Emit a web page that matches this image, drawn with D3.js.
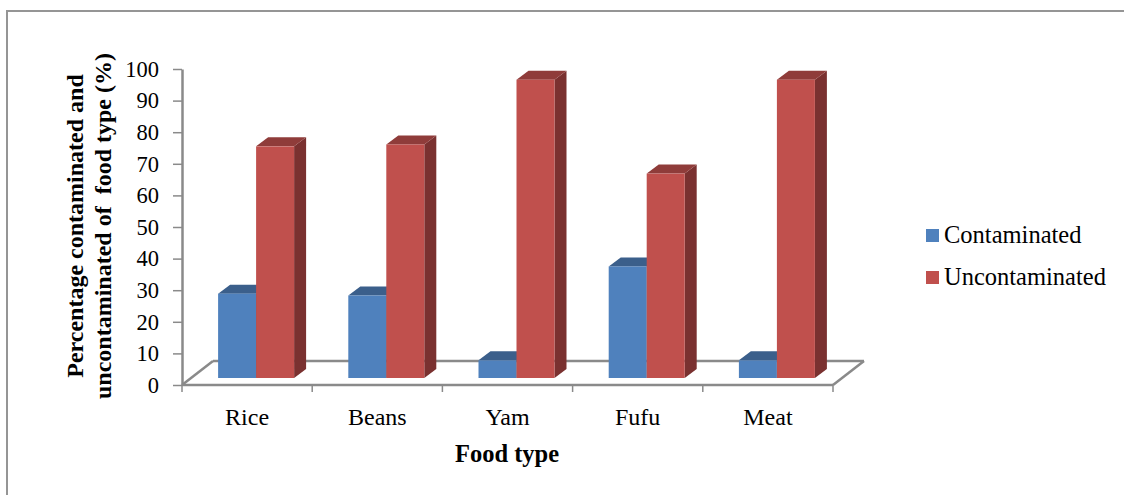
<!DOCTYPE html>
<html>
<head>
<meta charset="utf-8">
<script src="https://cdn.jsdelivr.net/npm/d3@7"></script>
<style>
  html, body { margin: 0; padding: 0; background: #fff; }
  svg { display: block; font-family: "Liberation Serif", "Times New Roman", serif; }
</style>
</head>
<body>
<svg id="chart" width="1124" height="495"></svg>
<script>
// Food types and percentages of samples found contaminated / uncontaminated
const categories = ["Rice", "Beans", "Yam", "Fufu", "Meat"];
const contaminated = [26.7, 26.1, 5.6, 35.3, 5.6];
const uncontaminated = [73.3, 73.9, 94.4, 64.7, 94.4];
const yTicks = [0, 10, 20, 30, 40, 50, 60, 70, 80, 90, 100];
const seriesNames = ["Contaminated", "Uncontaminated"];

const colors = {
  Contaminated: { front: "#4f81bd", top: "#3b5f8b", side: "#2f4c70" },
  Uncontaminated: { front: "#c0504d", top: "#8f3c3a", side: "#7a3130" }
};

const serif = "'Liberation Serif', 'Times New Roman', serif";
const svg = d3.select("#chart");

// Outer chart-area frame (top and left edges fall inside the view)
svg.append("path")
  .attr("d", "M7,495 V11 H1124")
  .attr("fill", "none")
  .attr("stroke", "#959595")
  .attr("stroke-width", 2);

// Plot geometry
const x0 = 182, x1 = 833;
const y = d3.scaleLinear().domain([0, 100]).range([385, 69]);
const x = d3.scaleBand().domain(categories).range([x0, x1]).paddingInner(0).paddingOuter(0);

const floorDepth = { dx: 31, dy: -24 };   // offset of floor's back edge
const barPlane = { dx: 9, dy: -7 };       // offset of bars' front faces
const barDepth = { dx: 12, dy: -9 };      // thickness of each bar
const barW = 38;

const axisColor = "#8a8a8a";

// Floor: back edge and side edges (drawn first, behind the bars)
const floor = svg.append("g").attr("fill", "none").attr("stroke", axisColor).attr("stroke-width", 2.5);
floor.append("line")
  .attr("x1", x0 + floorDepth.dx).attr("y1", y(0) + floorDepth.dy)
  .attr("x2", x1 + floorDepth.dx).attr("y2", y(0) + floorDepth.dy);
floor.append("line")
  .attr("x1", x0).attr("y1", y(0))
  .attr("x2", x0 + floorDepth.dx).attr("y2", y(0) + floorDepth.dy);
floor.append("line")
  .attr("x1", x1).attr("y1", y(0))
  .attr("x2", x1 + floorDepth.dx).attr("y2", y(0) + floorDepth.dy);

// 3D bars
const bars = svg.append("g");
categories.forEach((cat, i) => {
  const vals = [contaminated[i], uncontaminated[i]];
  const cx = x(cat) + x.bandwidth() / 2 + barPlane.dx;
  vals.forEach((v, j) => {
    const c = colors[seriesNames[j]];
    const left = cx - barW + j * barW;
    const right = left + barW;
    const base = y(0) + barPlane.dy;
    const top = y(v) + barPlane.dy;
    const g = bars.append("g");
    // side face
    g.append("path")
      .attr("d", `M${right},${base} L${right + barDepth.dx},${base + barDepth.dy} L${right + barDepth.dx},${top + barDepth.dy} L${right},${top} Z`)
      .attr("fill", c.side);
    // top face
    g.append("path")
      .attr("d", `M${left},${top} L${left + barDepth.dx},${top + barDepth.dy} L${right + barDepth.dx},${top + barDepth.dy} L${right},${top} Z`)
      .attr("fill", c.top);
    // front face
    g.append("rect")
      .attr("x", left).attr("y", top)
      .attr("width", barW).attr("height", base - top)
      .attr("fill", c.front);
  });
});

// Value axis
const yAxis = svg.append("g")
  .attr("transform", `translate(${x0},0)`)
  .call(d3.axisLeft(y).tickValues(yTicks).tickSize(9).tickPadding(14).tickSizeOuter(0));
yAxis.attr("font-family", null).attr("font-size", null);
yAxis.select(".domain").attr("stroke", axisColor).attr("stroke-width", 2.5);
yAxis.selectAll(".tick line").attr("stroke", axisColor).attr("stroke-width", 1.5);
yAxis.selectAll(".tick text")
  .attr("fill", "#000")
  .style("font-family", serif)
  .style("font-size", "22.5px");

// Category axis along the floor's front edge
const tickPos = categories.map(c => x(c)).concat([x1]);
const xAxisG = svg.append("g");
xAxisG.append("line")
  .attr("x1", x0).attr("y1", y(0)).attr("x2", x1).attr("y2", y(0))
  .attr("stroke", axisColor).attr("stroke-width", 2.5);
xAxisG.selectAll("line.tick").data(tickPos).join("line")
  .attr("class", "tick")
  .attr("x1", d => d).attr("x2", d => d)
  .attr("y1", y(0)).attr("y2", y(0) + 7)
  .attr("stroke", axisColor).attr("stroke-width", 1.5);
xAxisG.selectAll("text").data(categories).join("text")
  .attr("x", d => x(d) + x.bandwidth() / 2)
  .attr("y", 425)
  .attr("text-anchor", "middle")
  .style("font-family", serif)
  .style("font-size", "24px")
  .text(d => d);

// Axis titles
svg.append("text")
  .attr("x", 507).attr("y", 462)
  .attr("text-anchor", "middle")
  .style("font-family", serif)
  .style("font-size", "24.5px").style("font-weight", "bold")
  .text("Food type");

const yTitle = svg.append("text")
  .attr("transform", "translate(0,226) rotate(-90)")
  .attr("text-anchor", "middle")
  .style("font-family", serif)
  .style("font-size", "24px").style("font-weight", "bold");
yTitle.append("tspan").attr("x", 0).attr("y", 83).text("Percentage contaminated and");
yTitle.append("tspan").attr("x", 0).attr("y", 111).text("uncontaminated of\u00a0 food type (%)");

// Legend
const legend = svg.append("g");
seriesNames.forEach((name, i) => {
  const ly = 229 + i * 42;
  legend.append("rect")
    .attr("x", 926).attr("y", ly)
    .attr("width", 13).attr("height", 13)
    .attr("fill", colors[name].front);
  legend.append("text")
    .attr("x", 944).attr("y", ly + 14)
    .style("font-family", serif)
    .style("font-size", "24.5px")
    .text(name);
});
</script>
</body>
</html>
